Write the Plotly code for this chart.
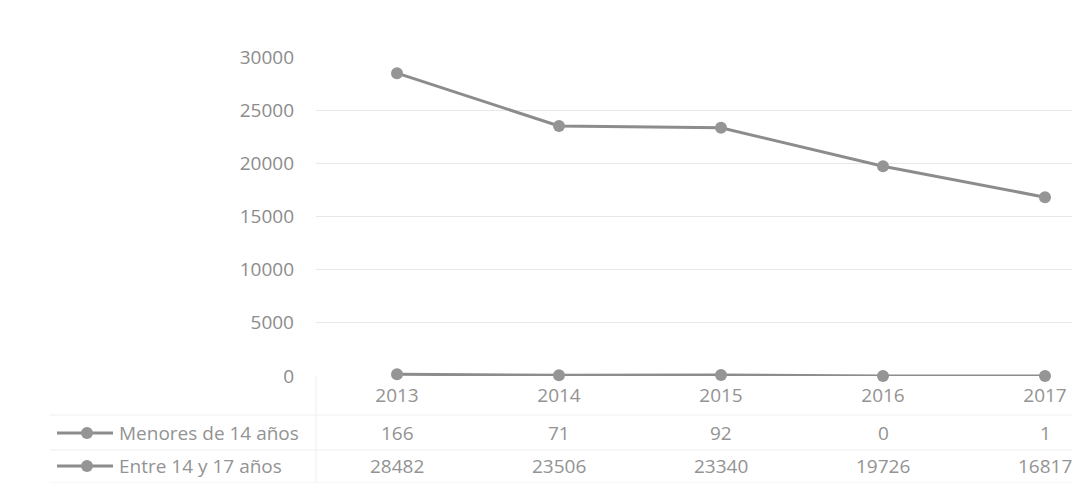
import plotly.graph_objects as go

years = ["2013", "2014", "2015", "2016", "2017"]
series_names = ["Menores de 14 años", "Entre 14 y 17 años"]
menores = [166, 71, 92, 0, 1]
entre = [28482, 23506, 23340, 19726, 16817]
y_ticks = [0, 5000, 10000, 15000, 20000, 25000, 30000]

# figure is placed with an 8px page margin; positions below are window pixels
OX, OY = 8, 8
W, H = 1080 - 2 * OX, 491 - 2 * OY
FONT = "Open Sans"
TXT = "#939393"
LINE = "#8c8c8c"

def px(x):
    return (x - OX) / W

def py(y):
    return (H - (y - OY)) / H

xi = list(range(len(years)))
X0, DX = 397, 162  # window x of first category, category spacing

fig = go.Figure()
for vals in (menores, entre):
    fig.add_trace(go.Scatter(
        x=xi, y=vals, mode="lines+markers",
        line=dict(color=LINE, width=3),
        marker=dict(color="#959595", size=12, symbol="circle"),
        cliponaxis=False, showlegend=False, hoverinfo="skip",
    ))

annotations = []
row_y = [433, 466]
table_rows = [menores, entre]
shapes = []
for r, (name, vals) in enumerate(zip(series_names, table_rows)):
    yy = py(row_y[r])
    annotations.append(dict(
        x=px(117), y=yy, xref="paper", yref="paper", text=name,
        showarrow=False, xanchor="left", yanchor="middle",
        font=dict(family=FONT, size=19, color=TXT),
    ))
    for i, v in enumerate(vals):
        annotations.append(dict(
            x=i, y=yy, xref="x", yref="paper", text=str(v),
            showarrow=False, xanchor="center", yanchor="middle",
            font=dict(family=FONT, size=19, color=TXT),
        ))
    shapes.append(dict(type="line", xref="paper", yref="paper",
                       x0=px(57), x1=px(113), y0=yy, y1=yy,
                       line=dict(color=LINE, width=3)))
    shapes.append(dict(type="circle", xref="paper", yref="paper",
                       x0=px(81), x1=px(93), y0=yy - 6 / H, y1=yy + 6 / H,
                       fillcolor="#959595", line=dict(width=0)))

for yline in (415, 450, 483):
    shapes.append(dict(type="line", xref="paper", yref="paper",
                       x0=px(50), x1=1, y0=py(yline), y1=py(yline),
                       line=dict(color="#efefef", width=1)))
shapes.append(dict(type="line", xref="paper", yref="paper",
                   x0=px(316), x1=px(316), y0=py(376), y1=py(487),
                   line=dict(color="#efefef", width=1)))

fig.update_layout(
    width=W, height=H,
    margin=dict(l=0, r=0, t=0, b=0, autoexpand=False),
    paper_bgcolor="white", plot_bgcolor="white",
    font=dict(family=FONT, color=TXT),
    xaxis=dict(
        domain=[px(X0 - DX / 2), 1],
        range=[-0.5, (W + OX - X0) / DX],
        tickmode="array", tickvals=xi, ticktext=years,
        showgrid=False, zeroline=False, showline=False, ticks="",
        automargin=False,
        ticklabelstandoff=6,
        tickfont=dict(family=FONT, size=19, color=TXT),
    ),
    yaxis=dict(
        domain=[py(376), py(57)], range=[0, 30000],
        tickmode="array", tickvals=y_ticks, ticktext=[str(t) for t in y_ticks],
        showgrid=True, gridcolor="#e8e8e8", gridwidth=1,
        zeroline=False, showline=False, ticks="",
        automargin=False,
        ticklabelstandoff=21,
        tickfont=dict(family=FONT, size=19, color="#8c8c8c"),
    ),
    annotations=annotations,
    shapes=shapes,
)

fig.write_html("out.html")
